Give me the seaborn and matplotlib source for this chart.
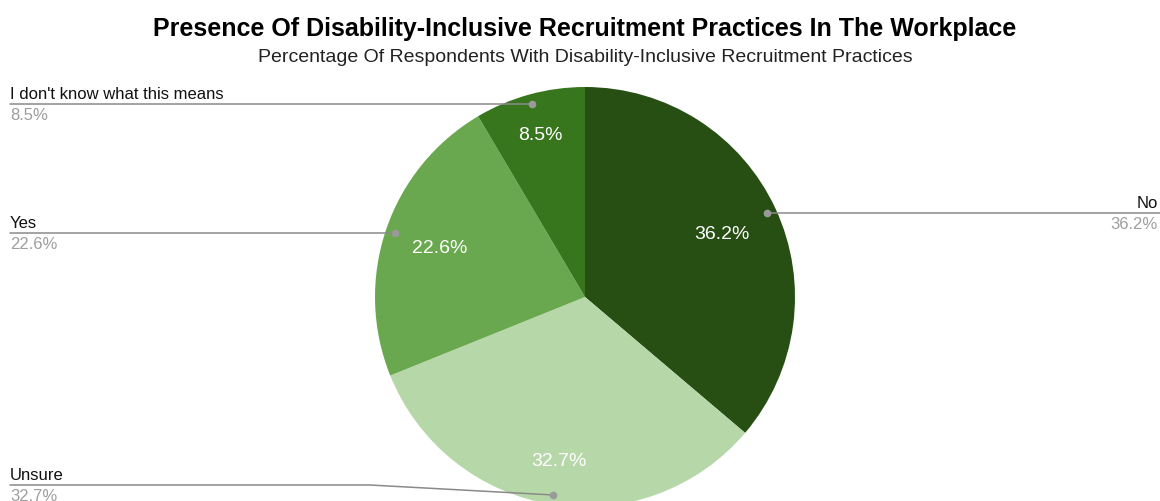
import numpy as np
import matplotlib
matplotlib.use("Agg")
import matplotlib.pyplot as plt
import seaborn as sns

# Survey answers, drawn clockwise from 12 o'clock
labels = ["No", "Unsure", "Yes", "I don't know what this means"]
values = [36.2, 32.7, 22.6, 8.5]
colors = ["#274e13", "#b6d7a8", "#6aa84f", "#38761d"]

title = "Presence Of Disability-Inclusive Recruitment Practices In The Workplace"
subtitle = "Percentage Of Respondents With Disability-Inclusive Recruitment Practices"

sns.set_theme(style="white")
plt.rcParams["font.family"] = ["Liberation Sans", "DejaVu Sans"]

W, H = 1160, 502
fig = plt.figure(figsize=(W / 100, H / 100), dpi=100)
ax = fig.add_axes([0, 0, 1, 1])

cx, cy, R = 585, H - 298, 210

wedges, _ = ax.pie(values, colors=colors, startangle=90, counterclock=False,
                   center=(cx, cy), radius=R,
                   wedgeprops=dict(linewidth=0))

ax.set_xlim(0, W)
ax.set_ylim(0, H)
ax.set_aspect("equal")
ax.axis("off")

# in-slice percentage labels
pct_dist = [0.72, 0.79, 0.73, 0.80]
line_col = "#8a8a8a"
for w, v, lab, d in zip(wedges, values, labels, pct_dist):
    mid = np.deg2rad((w.theta1 + w.theta2) / 2)
    ax.text(cx + d * R * np.cos(mid), cy + d * R * np.sin(mid), f"{v:.1f}%",
            color="white", fontsize=14, ha="center", va="center")

    # leader line from a dot inside the slice to the outer label
    px = cx + 0.955 * R * np.cos(mid)
    py = cy + 0.955 * R * np.sin(mid)
    ax.plot(px, py, "o", color="#9a9a9a", markersize=4.5, zorder=5)
    right = np.cos(mid) > 0
    ly = max(py, 16)
    if right:
        xs, ys = [px, W], [py, ly]
        tx, ha = W - 2, "right"
    else:
        if ly != py:
            xs, ys = [px, 370, 10], [py, ly, ly]
        else:
            xs, ys = [px, 10], [py, ly]
        tx, ha = 10, "left"
    ax.plot(xs, ys, color=line_col, linewidth=1.1, zorder=4)
    ax.text(tx, ly + 3, lab, color="#111111", fontsize=12, ha=ha, va="bottom")
    ax.text(tx, ly - 3, f"{v:.1f}%", color="#9e9e9e", fontsize=12, ha=ha, va="top")

fig.text(cx / W, 1 - 29 / H, title, fontsize=18, fontweight="bold",
         ha="center", va="center", color="#000000")
fig.text(cx / W, 1 - 58 / H, subtitle, fontsize=14, ha="center", va="center",
         color="#222222")

fig.savefig("out.png", dpi=100)
